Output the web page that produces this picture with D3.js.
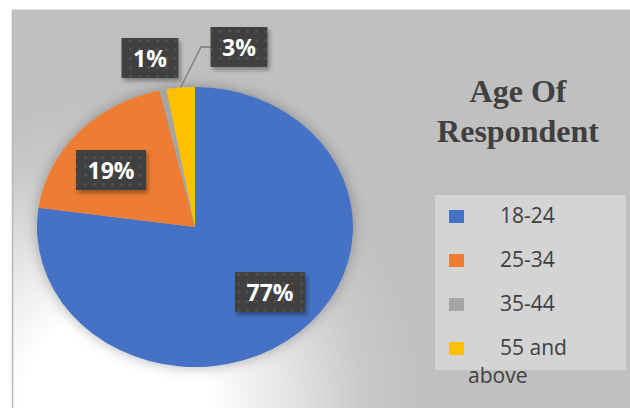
<!DOCTYPE html>
<html><head><meta charset="utf-8">
<script src="https://cdn.jsdelivr.net/npm/d3@7"></script>
<style>body{margin:0;background:#fff;overflow:hidden}</style>
</head><body><svg id="c" width="630" height="408"></svg>
<script>
// ---- data ----
const categories = ["18-24", "25-34", "35-44", "55 and above"];
const values = [77.2, 19.2, 0.7, 2.9];
const colors = ["#4472c4", "#ed7d31", "#a5a5a5", "#ffc000"];
const titleLines = ["Age Of", "Respondent"];
const legendLines = [["18-24"], ["25-34"], ["35-44"], ["55 and", "above"]];

// ---- layout ----
const W = 630, H = 408;
const cx = 195, cy = 227, rx = 158, ry = 140;
const labelCenters = [[270, 292], [111, 170], [150, 58], [239, 47]];

const svg = d3.select("#c");
const defs = svg.append("defs");

const glow = defs.append("radialGradient").attr("id", "glow")
  .attr("gradientUnits", "userSpaceOnUse")
  .attr("cx", 115).attr("cy", 405).attr("r", 310);
[[0, 1], [0.3, 1], [0.55, 0.6], [0.8, 0.15], [1, 0]].forEach(([o, a]) =>
  glow.append("stop").attr("offset", o).attr("stop-color", "#fff").attr("stop-opacity", a));

const pieShadow = defs.append("filter").attr("id", "pieShadow")
  .attr("x", "-20%").attr("y", "-20%").attr("width", "140%").attr("height", "140%");
pieShadow.append("feGaussianBlur").attr("in", "SourceAlpha").attr("stdDeviation", 7).attr("result", "b");
pieShadow.append("feFlood").attr("flood-color", "#000").attr("flood-opacity", 0.3).attr("result", "f");
pieShadow.append("feComposite").attr("in", "f").attr("in2", "b").attr("operator", "in").attr("result", "s");
const pm = pieShadow.append("feMerge");
pm.append("feMergeNode").attr("in", "s");
pm.append("feMergeNode").attr("in", "SourceGraphic");

const boxShadow = defs.append("filter").attr("id", "boxShadow")
  .attr("x", "-20%").attr("y", "-20%").attr("width", "150%").attr("height", "160%");
boxShadow.append("feGaussianBlur").attr("in", "SourceAlpha").attr("stdDeviation", 2).attr("result", "b");
boxShadow.append("feOffset").attr("in", "b").attr("dx", 2).attr("dy", 3).attr("result", "o");
boxShadow.append("feFlood").attr("flood-color", "#000").attr("flood-opacity", 0.35).attr("result", "f");
boxShadow.append("feComposite").attr("in", "f").attr("in2", "o").attr("operator", "in").attr("result", "s");
const bm = boxShadow.append("feMerge");
bm.append("feMergeNode").attr("in", "s");
bm.append("feMergeNode").attr("in", "SourceGraphic");

const dots = defs.append("pattern").attr("id", "dots")
  .attr("patternUnits", "userSpaceOnUse").attr("width", 9).attr("height", 9);
dots.append("circle").attr("cx", 4.5).attr("cy", 4.5).attr("r", 1.3).attr("fill", "#555");

// ---- background ----
svg.append("rect").attr("width", W).attr("height", H).attr("fill", "#fff");
svg.append("rect").attr("x", 12).attr("y", 10).attr("width", W - 12).attr("height", H - 10).attr("fill", "#c0c0c0");
svg.append("rect").attr("x", 12).attr("y", 10).attr("width", W - 12).attr("height", H - 10).attr("fill", "url(#glow)");
svg.append("line").attr("x1", 12.5).attr("x2", 12.5).attr("y1", 10).attr("y2", H).attr("stroke", "#b8b8b8").attr("stroke-width", 1.5);
svg.append("line").attr("x1", 12).attr("x2", W).attr("y1", 9.5).attr("y2", 9.5).attr("stroke", "#e2e2e2").attr("stroke-width", 1);

// ---- pie ----
const total = d3.sum(values);
const pie = d3.pie().sort(null).value(d => d);
const arcs = pie(values);
const arc = d3.arc().innerRadius(0).outerRadius(rx);
const color = d3.scaleOrdinal().domain(categories).range(colors);

const pg = svg.append("g").attr("transform", `translate(${cx},${cy}) scale(1,${ry / rx})`)
  .attr("filter", "url(#pieShadow)");
pg.selectAll("path").data(arcs).join("path")
  .attr("d", arc)
  .attr("fill", (d, i) => color(categories[i]));

// leader line for the small yellow slice (3%)
const edgeArc = d3.arc().innerRadius(rx).outerRadius(rx);
const yEdge = edgeArc.centroid(arcs[3]);
const yx = cx + yEdge[0], yy = cy + yEdge[1] * ry / rx;
svg.append("polyline")
  .attr("points", `${labelCenters[3][0] - 27},${labelCenters[3][1]} ${labelCenters[3][0] - 38},${labelCenters[3][1]} ${yx},${yy}`)
  .attr("fill", "none").attr("stroke", "#7a7a7a").attr("stroke-width", 1.3);

// ---- data labels ----
const lg = svg.append("g");
arcs.forEach((d, i) => {
  const pct = Math.round(d.data / total * 100) + "%";
  const [lx, ly] = labelCenters[i];
  const g = lg.append("g");
  const t = g.append("text").attr("x", lx).attr("y", ly + 8.5)
    .attr("text-anchor", "middle")
    .attr("font-family", "'Open Sans', sans-serif").attr("font-weight", 700)
    .attr("font-size", 23).attr("fill", "#fff").text(pct);
  const bw = t.node().getComputedTextLength() + 23, bh = 40;
  g.insert("rect", "text").attr("x", lx - bw / 2).attr("y", ly - bh / 2).attr("width", bw).attr("height", bh)
    .attr("fill", "#404040").attr("filter", "url(#boxShadow)");
  g.insert("rect", "text").attr("x", lx - bw / 2).attr("y", ly - bh / 2).attr("width", bw).attr("height", bh)
    .attr("fill", "url(#dots)");
});

// ---- title ----
svg.append("text").attr("x", 518).attr("y", 102).attr("text-anchor", "middle")
  .attr("font-family", "'Liberation Serif', 'Times New Roman', serif").attr("font-weight", 700)
  .attr("font-size", 32).attr("fill", "#404040")
  .selectAll("tspan").data(titleLines).join("tspan")
  .attr("x", 518).attr("dy", (d, i) => i === 0 ? 0 : 40).text(d => d);

// ---- legend ----
svg.append("rect").attr("x", 435).attr("y", 195).attr("width", 191).attr("height", 175).attr("fill", "#d4d4d4");
const leg = svg.append("g");
categories.forEach((c, i) => {
  const yb = 223 + i * 44;
  leg.append("rect").attr("x", 449).attr("y", yb - 13).attr("width", 15).attr("height", 13).attr("fill", color(c));
  legendLines[i].forEach((line, j) => {
    leg.append("text").attr("x", j === 0 ? 500 : 468).attr("y", yb + j * 28)
      .attr("font-family", "'Open Sans', sans-serif").attr("font-size", 21)
      .attr("fill", "#404040").text(line);
  });
});
</script></body></html>
